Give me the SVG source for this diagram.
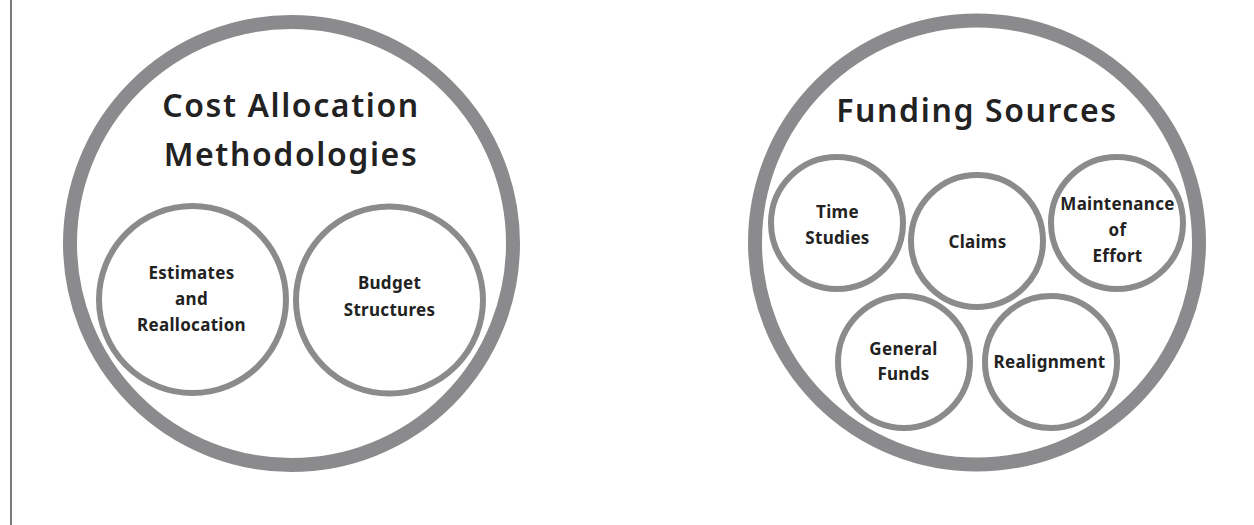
<svg xmlns="http://www.w3.org/2000/svg" width="1254" height="525" viewBox="0 0 1254 525">
  <style>
    .ring { fill: none; stroke: #8b8b8d; stroke-width: 14; }
    .sub { fill: none; stroke: #8b8b8d; stroke-width: 6; }
    .title { font-family: "Noto Sans", "DejaVu Sans", sans-serif; font-size: 32px; font-weight: 600; letter-spacing: 1.6px; fill: #222; text-anchor: middle; }
    .label { font-family: "Noto Sans", "DejaVu Sans", sans-serif; font-size: 17px; font-weight: 700; letter-spacing: 0.3px; fill: #222; text-anchor: middle; }
  </style>
  <rect width="1254" height="525" fill="#ffffff"/>
  <!-- page margin rule -->
  <line x1="11" y1="0" x2="11" y2="525" stroke="#7a7a7a" stroke-width="2"/>

  <!-- Cost allocation group -->
  <g id="cost-allocation">
    <circle class="ring" cx="291.5" cy="243.5" r="221.5"/>
    <text class="title" x="291" y="117">Cost Allocation</text>
    <text class="title" x="291" y="166">Methodologies</text>
  </g>
  <g id="estimates-reallocation">
    <circle class="sub" cx="192.5" cy="299.5" r="93.5"/>
    <text class="label" x="191.5" y="279">Estimates</text>
    <text class="label" x="191.5" y="305">and</text>
    <text class="label" x="191.5" y="331">Reallocation</text>
  </g>
  <g id="budget-structures">
    <circle class="sub" cx="389.5" cy="300" r="93.5"/>
    <text class="label" x="389.5" y="289">Budget</text>
    <text class="label" x="389.5" y="316">Structures</text>
  </g>

  <!-- Funding sources group -->
  <g id="funding-sources">
    <circle class="ring" cx="977" cy="242.5" r="222"/>
    <text class="title" x="977" y="122">Funding Sources</text>
  </g>
  <g id="time-studies">
    <circle class="sub" cx="837" cy="223" r="66"/>
    <text class="label" x="837.5" y="218">Time</text>
    <text class="label" x="837.5" y="244">Studies</text>
  </g>
  <g id="claims">
    <circle class="sub" cx="977" cy="241" r="66"/>
    <text class="label" x="977.5" y="248">Claims</text>
  </g>
  <g id="maintenance-of-effort">
    <circle class="sub" cx="1117" cy="223" r="66"/>
    <text class="label" x="1117.5" y="210">Maintenance</text>
    <text class="label" x="1117.5" y="236">of</text>
    <text class="label" x="1117.5" y="262">Effort</text>
  </g>
  <g id="general-funds">
    <circle class="sub" cx="904" cy="362" r="66"/>
    <text class="label" x="903.5" y="355">General</text>
    <text class="label" x="903.5" y="380">Funds</text>
  </g>
  <g id="realignment">
    <circle class="sub" cx="1051" cy="362" r="66"/>
    <text class="label" x="1049.5" y="368">Realignment</text>
  </g>

  <g id="connectors"/>
</svg>
